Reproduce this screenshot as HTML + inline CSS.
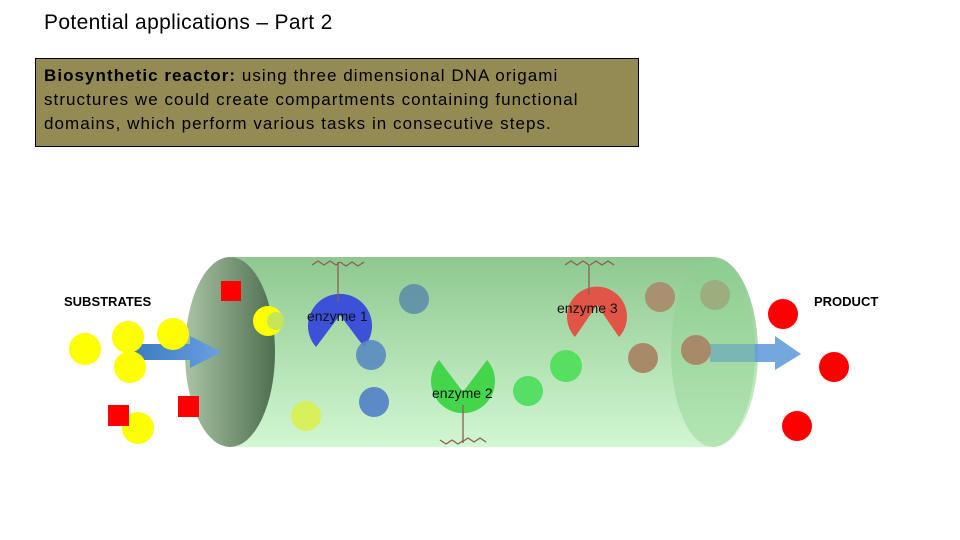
<!DOCTYPE html>
<html><head><style>
body{margin:0;width:960px;height:540px;background:#fff;overflow:hidden;position:relative;font-family:"Liberation Sans",sans-serif}
.t{position:absolute;left:44px;top:11px;font-size:21px;color:#000;letter-spacing:0.35px}
.box{position:absolute;left:35px;top:58px;width:604px;height:89px;background:#948a54;border:1px solid #000;box-sizing:border-box;padding:5px 8px;font-size:17px;line-height:24px;color:#000;letter-spacing:1.05px}
</style></head><body>
<div class="t">Potential applications – Part 2</div>
<div class="box"><b>Biosynthetic reactor:</b> using three dimensional DNA origami<br>structures we could create compartments containing functional<br>domains, which perform various tasks in consecutive steps.</div>
<svg width="960" height="540" style="position:absolute;left:0;top:0">
<defs>
<linearGradient id="g" x1="0" y1="0" x2="0" y2="1"><stop offset="0" stop-color="#8ec890"/><stop offset="1" stop-color="#d2f7d2"/></linearGradient>
<linearGradient id="l" x1="0" y1="0" x2="1" y2="0"><stop offset="0" stop-color="#a8c4a4"/><stop offset="1" stop-color="#4f6e50"/></linearGradient>
<linearGradient id="a" x1="0" y1="0" x2="1" y2="0"><stop offset="0" stop-color="#3a7ac0"/><stop offset="1" stop-color="#6aa0e0"/></linearGradient>
</defs>
<rect x="230" y="257" width="483" height="190" fill="url(#g)"/>
<ellipse cx="713" cy="352" rx="45" ry="95" fill="url(#g)"/>
<ellipse cx="230" cy="352" rx="45" ry="95" fill="url(#l)"/>
<rect x="221" y="281" width="20" height="20" fill="#f00"/>
<circle cx="268" cy="321" r="15" fill="#ff0"/>
<circle cx="276" cy="321" r="9" fill="#b8e070" opacity=".8"/>
<path d="M130 344 H190 V336 L222 352 L190 368 V360 H130Z" fill="url(#a)"/>
<circle cx="85" cy="349" r="16" fill="#ff0"/>
<circle cx="128" cy="337" r="16" fill="#ff0"/>
<circle cx="173" cy="334" r="16" fill="#ff0"/>
<circle cx="130" cy="367" r="16" fill="#ff0"/>
<circle cx="138" cy="428" r="16" fill="#ff0"/>
<rect x="108" y="405" width="21" height="21" fill="#f00"/>
<rect x="178" y="396" width="21" height="21" fill="#f00"/>
<text x="64" y="306" font-size="13" font-weight="bold">SUBSTRATES</text>
<text x="814" y="306" font-size="13" font-weight="bold">PRODUCT</text>
<path d="M340 315 L316 347 A32 32 0 1 1 364 347Z" fill="#3c50d8"/>
<text x="307" y="321" font-size="14" fill="#111">enzyme 1</text>
<path d="M463 392 L439 360 A32 32 0 1 0 487 360Z" fill="#44d64a"/>
<text x="432" y="398" font-size="14" fill="#111">enzyme 2</text>
<path d="M597 305 L575 337 A30 30 0 1 1 619 337Z" fill="#e05545"/>
<text x="557" y="313" font-size="14" fill="#111">enzyme 3</text>
<g stroke="#8a6050" stroke-width="1.3" fill="none">
<path d="M312 265 l6-4 6 4 6-4 6 4 4 -3 M340 262 l6 4 6-4 6 4 6-4 M338 262 v40"/>
<path d="M440 440 l6 4 6-4 6 4 6-4 M462 442 l6-4 6 4 6-4 6 4 M463 405 v38"/>
<path d="M565 265 l6-4 6 4 6-4 6 4 M590 265 l6-4 6 4 6-4 6 4 M589 265 v30"/>
</g>
<circle cx="414" cy="299" r="15" fill="#5e8ea8" opacity=".9"/>
<circle cx="371" cy="355" r="15" fill="#5a8ac0" opacity=".9"/>
<circle cx="374" cy="402" r="15" fill="#5080c8" opacity=".9"/>
<circle cx="306" cy="416" r="15" fill="#d8f050" opacity=".9"/>
<circle cx="528" cy="391" r="15" fill="#55e065"/>
<circle cx="566" cy="366" r="16" fill="#55e060"/>
<circle cx="660" cy="297" r="15" fill="#a89070"/>
<circle cx="715" cy="295" r="15" fill="#a89070"/>
<circle cx="643" cy="358" r="15" fill="#a88a68"/>
<path d="M710 344 H775 V336 L801 354 L775 370 V362 H710Z" fill="#5a98d8" opacity=".85"/>
<ellipse cx="713" cy="352" rx="42" ry="95" fill="#8ed090" opacity=".45"/>
<circle cx="696" cy="350" r="15" fill="#a88a68"/>
<circle cx="783" cy="314" r="15" fill="#f00"/>
<circle cx="834" cy="367" r="15" fill="#f00"/>
<circle cx="797" cy="426" r="15" fill="#f00"/>
</svg>
</body></html>
